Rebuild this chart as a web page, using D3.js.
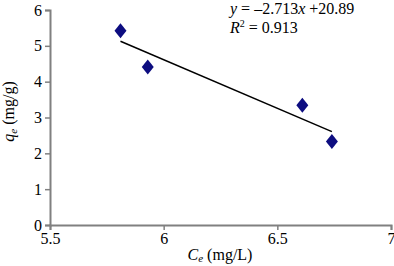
<!DOCTYPE html>
<meta charset="utf-8">
<script src="https://d3js.org/d3.v7.min.js"></script>
<style>
  body { margin: 0; background: #fff; }
  text { font-family: "Liberation Serif", "Times New Roman", serif; fill: #000; }
</style>
<div id="chart"></div>
<script>

// data
var ce = [5.81, 5.93, 6.61, 6.74];
var qe = [5.42, 4.41, 3.34, 2.33];
var xTicks = [5.5, 6, 6.5, 7];
var yTicks = [0, 1, 2, 3, 4, 5, 6];
var slope = -2.713, intercept = 20.89;

var margin = {top: 10, right: 3, bottom: 41, left: 50},
    width = 394 - margin.left - margin.right,
    height = 266 - margin.top - margin.bottom;

var svg = d3.select("#chart")
  .append("svg")
    .attr("width", 394)
    .attr("height", 266)
  .append("g")
    .attr("transform", "translate(" + margin.left + "," + margin.top + ")");

var x = d3.scaleLinear().domain([5.5, 7]).range([0, width]);
var y = d3.scaleLinear().domain([0, 6]).range([height, 0]);

// axes
var xAxis = svg.append("g")
  .attr("transform", "translate(0," + height + ")")
  .call(d3.axisBottom(x).tickValues(xTicks).tickSize(5).tickPadding(3)
    .tickFormat(function(d) { return d; }));
var yAxis = svg.append("g")
  .call(d3.axisLeft(y).tickValues(yTicks).tickSize(5).tickPadding(3)
    .tickFormat(function(d) { return d; }));

[xAxis, yAxis].forEach(function(a) {
  a.attr("font-family", "Liberation Serif").attr("font-size", 16);
  a.select(".domain").attr("stroke", "#808080").attr("stroke-width", 2);
  a.selectAll(".tick line").attr("stroke", "#808080").attr("stroke-width", 1.5);
});

// trend line
var xMin = d3.min(ce), xMax = d3.max(ce);
svg.append("path")
  .datum([xMin, xMax])
  .attr("d", d3.line()
    .x(function(d) { return x(d); })
    .y(function(d) { return y(slope * d + intercept); }))
  .attr("stroke", "black")
  .attr("stroke-width", 1.5)
  .attr("fill", "none");

// diamonds
svg.selectAll(".pt")
  .data(ce)
  .enter()
  .append("path")
    .attr("class", "pt")
    .attr("transform", function(d, i) { return "translate(" + x(d) + "," + y(qe[i]) + ")"; })
    .attr("d", "M0,-7.5L6,0L0,7.5L-6,0Z")
    .attr("fill", "#0d0d80");

// equation
var eq = svg.append("text")
  .attr("x", 180).attr("y", 4)
  .style("font-size", "16px");
eq.append("tspan").style("font-style", "italic").text("y");
eq.append("tspan").text(" = \u20132.713");
eq.append("tspan").style("font-style", "italic").text("x");
eq.append("tspan").text(" +20.89");

var r2 = svg.append("text")
  .attr("x", 180).attr("y", 23)
  .style("font-size", "16px");
r2.append("tspan").style("font-style", "italic").text("R");
r2.append("tspan").attr("dy", -6).style("font-size", "10px").text("2");
r2.append("tspan").attr("dy", 6).text(" = 0.913");

// axis labels
var xl = svg.append("text")
  .attr("x", 170).attr("y", height + 35)
  .attr("text-anchor", "middle")
  .style("font-size", "16px");
xl.append("tspan").style("font-style", "italic").text("C");
xl.append("tspan").attr("dy", 2).style("font-size", "11px").style("font-style", "italic").text("e");
xl.append("tspan").attr("dy", -2).text(" (mg/L)");

var yl = svg.append("text")
  .attr("transform", "translate(-36," + (y(3) - 6) + ") rotate(-90)")
  .attr("text-anchor", "middle")
  .style("font-size", "16px");
yl.append("tspan").style("font-style", "italic").text("q");
yl.append("tspan").attr("dy", 3).style("font-size", "11px").style("font-style", "italic").text("e");
yl.append("tspan").attr("dy", -3).text(" (mg/g)");

</script>
